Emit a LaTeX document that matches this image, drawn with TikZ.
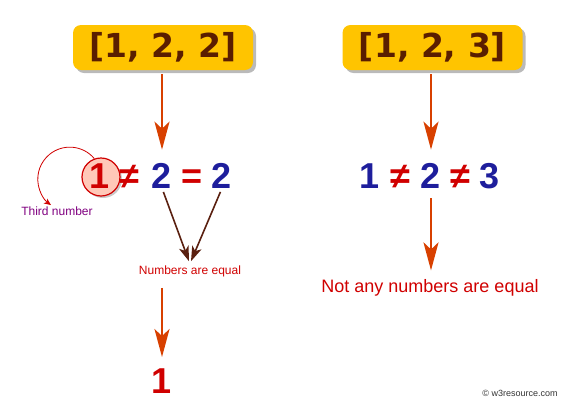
\documentclass[tikz,border=0pt]{standalone}
\usepackage{fontspec}
\setmainfont{Liberation Sans}
\newfontfamily\boxfont{DejaVu Sans}
\usetikzlibrary{arrows.meta,shadows}
\definecolor{boxyellow}{HTML}{FFC400}
\definecolor{boxtext}{HTML}{5A1E00}
\definecolor{arrowor}{HTML}{D84000}
\definecolor{eqblue}{HTML}{1E1E9C}
\definecolor{eqred}{HTML}{D00000}
\definecolor{brownln}{HTML}{5A2010}
\definecolor{circfill}{HTML}{FFC8B8}
\definecolor{purp}{HTML}{800080}
\tikzset{
  listbox/.style={draw=none, fill=boxyellow, rounded corners=8pt, minimum width=180pt, minimum height=45pt,
    inner sep=0pt, font=\boxfont\bfseries\fontsize{33}{36}\selectfont, text=boxtext,
    drop shadow={shadow xshift=3pt, shadow yshift=-3pt, opacity=0.45, fill=black!60}},
  digit/.style={inner sep=0pt, anchor=base, font=\bfseries\fontsize{36}{40}\selectfont},
  bluedig/.style={digit, text=eqblue},
  reddig/.style={digit, text=eqred},
  oarrow/.style={draw=arrowor, line width=2.6pt, -{Stealth[length=28pt, width=15pt, inset=7pt]}},
  barrow/.style={draw=brownln, line width=1.6pt, -{Stealth[length=15pt, width=10pt, inset=4pt]}},
  lbl/.style={inner sep=0pt, font=\fontsize{12}{14}\selectfont},
}
\begin{document}
\begin{tikzpicture}[x=1pt,y=1pt]
\useasboundingbox (0,0) rectangle (573,-410);
% boxes
\node[listbox] (b1) at (163,-47.5) {[1, 2, 2]};
\node[listbox] (b2) at (432.5,-47.5) {[1, 2, 3]};
% left equation
\node[circle, draw=eqred, line width=1.2pt, fill=circfill, minimum size=38pt, inner sep=0pt,
  drop shadow={shadow xshift=2pt, shadow yshift=-2pt, opacity=0.35, fill=black!60}] (c1) at (101,-177) {};
\node[reddig] (l1) at (100,-188) {1};
\node[reddig] (lne) at (129,-188) {≠};
\node[bluedig] (l2) at (162,-188) {2};
\node[reddig] (leq) at (192,-188) {=};
\node[bluedig] (l3) at (222,-188) {2};
% right equation
\node[bluedig] (q1) at (370,-188) {1};
\node[reddig] (qne1) at (400,-188) {≠};
\node[bluedig] (q2) at (431,-188) {2};
\node[reddig] (qne2) at (460,-188) {≠};
\node[bluedig] (q3) at (490,-188) {3};
% labels
\node[lbl, text=purp] (third) at (57,-211) {Third number};
\node[lbl, text=eqred] (neq) at (190,-271) {Numbers are equal};
\node[inner sep=0pt, text=eqred, font=\fontsize{18}{21}\selectfont] (nq) at (430,-288) {Not any numbers are equal};
\node[reddig] (res) at (162,-393) {1};
\node[inner sep=0pt, text=black!80, font=\fontsize{9}{11}\selectfont] (wm) at (520,-393) {© w3resource.com};
% arrows
\draw[oarrow, shorten <=4pt, shorten >=13pt] (b1.south -| l2.north) -- (l2.north);
\draw[oarrow, shorten <=4pt, shorten >=13pt] (b2.south -| q2.north) -- (q2.north);
\draw[oarrow, shorten <=10pt, shorten >=9pt] (q2.south) -- (nq.north -| q2.south);
\draw[oarrow, shorten <=11pt, shorten >=11pt] (neq.south -| res.north) -- (res.north);
\draw[barrow, shorten <=4pt] (l2.south) -- ([xshift=-1pt,yshift=4pt]neq.north);
\draw[barrow, shorten <=4pt] (l3.south) -- ([xshift=1pt,yshift=4pt]neq.north);
\draw[draw=eqred, line width=0.8pt, -{Stealth[length=7pt, width=6pt, inset=2pt]}] (c1.110) arc[start angle=40, end angle=234, radius=32];
\end{tikzpicture}
\end{document}
